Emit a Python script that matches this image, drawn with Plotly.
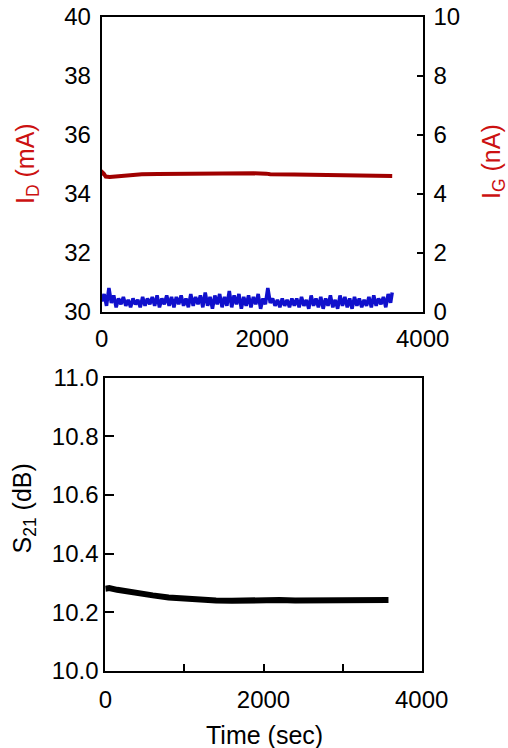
import plotly.graph_objects as go

# ---------------- data ----------------
t_id = [0, 10, 25, 50, 100, 200, 300, 400, 500, 700, 1000, 1300, 1600, 1900, 2050, 2100, 2400, 2700, 3000, 3300, 3620]
i_d = [34.62, 34.72, 34.68, 34.58, 34.57, 34.60, 34.62, 34.64, 34.66, 34.67, 34.68, 34.69, 34.69, 34.69, 34.68, 34.66, 34.65, 34.63, 34.62, 34.61, 34.60]

t_ig = list(range(0, 3601, 30)) + [3620]
i_g = [0.35, 0.60, 0.20, 0.80, 0.30, 0.55, 0.15, 0.45, 0.25, 0.50,
       0.20, 0.40, 0.15, 0.45, 0.25, 0.40, 0.15, 0.50, 0.20, 0.45,
       0.25, 0.50, 0.20, 0.55, 0.15, 0.45, 0.25, 0.55, 0.20, 0.50,
       0.15, 0.50, 0.25, 0.55, 0.20, 0.45, 0.15, 0.60, 0.20, 0.50,
       0.25, 0.55, 0.15, 0.65, 0.20, 0.50, 0.10, 0.55, 0.25, 0.60,
       0.15, 0.50, 0.20, 0.70, 0.15, 0.55, 0.25, 0.60, 0.10, 0.50,
       0.20, 0.55, 0.15, 0.50, 0.25, 0.60, 0.10, 0.45, 0.25, 0.80,
       0.30, 0.45, 0.20, 0.40, 0.15, 0.45, 0.20, 0.40, 0.15, 0.45,
       0.20, 0.45, 0.15, 0.50, 0.20, 0.40, 0.10, 0.55, 0.20, 0.45,
       0.15, 0.50, 0.10, 0.45, 0.20, 0.55, 0.15, 0.40, 0.10, 0.55,
       0.20, 0.50, 0.15, 0.45, 0.10, 0.50, 0.20, 0.45, 0.15, 0.40,
       0.20, 0.50, 0.15, 0.55, 0.20, 0.45, 0.25, 0.50, 0.15, 0.60,
       0.30, 0.65]

t_s21 = [0, 50, 150, 300, 450, 600, 800, 1000, 1200, 1400, 1600, 1800, 2000, 2200, 2400, 2600, 2800, 3000, 3200, 3400, 3580]
s21 = [10.280, 10.282, 10.276, 10.268, 10.262, 10.257, 10.250, 10.245, 10.242, 10.240, 10.239, 10.241, 10.242, 10.241, 10.240, 10.241, 10.242, 10.241, 10.241, 10.242, 10.241]

x_tickvals = [0, 2000, 4000]
x_minor_step = 1000
id_ticks = [30, 32, 34, 36, 38, 40]
ig_ticks = [0, 2, 4, 6, 8, 10]
s21_ticks = [10.0, 10.2, 10.4, 10.6, 10.8, 11.0]

# ---------------- figure ----------------
W, H = 508, 748
FONT = "Liberation Sans, Arial, sans-serif"
FS = 24
FS_TITLE = 25
RED_LBL = "#cc1111"

fig = go.Figure()
fig.add_trace(go.Scatter(x=t_id, y=i_d, mode="lines", line=dict(color="#a00000", width=4),
                         xaxis="x", yaxis="y", showlegend=False))
fig.add_trace(go.Scatter(x=t_ig, y=i_g, mode="lines", line=dict(color="#1010cc", width=3.5),
                         xaxis="x", yaxis="y2", showlegend=False))
fig.add_trace(go.Scatter(x=t_s21, y=s21, mode="lines", line=dict(color="black", width=6),
                         xaxis="x2", yaxis="y3", showlegend=False))

def px_x(p):
    return p / W

def px_y(p):
    return 1 - p / H

axis_common = dict(showline=True, linecolor="black", linewidth=2, showgrid=False, zeroline=False,
                   automargin=False, tickfont=dict(family=FONT, size=FS, color="black"))

fig.update_layout(
    template="none",
    width=W, height=H, margin=dict(l=0, r=0, t=0, b=0, pad=0),
    paper_bgcolor="white", plot_bgcolor="white",
    font=dict(family=FONT, size=FS, color="black"),
    xaxis=dict(domain=[px_x(101.7), px_x(422.7)], anchor="y", range=[0, 4000],
               tickmode="array", tickvals=x_tickvals, ticks="", mirror=True,
               ticklabelstandoff=4, **axis_common),
    yaxis=dict(domain=[px_y(311.7), px_y(16.7)], anchor="x", range=[30, 40],
               tickmode="array", tickvals=id_ticks, ticks="", ticklabelstandoff=4, **axis_common),
    yaxis2=dict(overlaying="y", side="right", anchor="x", range=[0, 10],
                tickmode="array", tickvals=ig_ticks, ticks="inside", ticklen=6, tickwidth=2,
                tickcolor="black", ticklabelstandoff=4, **axis_common),
    xaxis2=dict(domain=[px_x(105.3), px_x(421.7)], anchor="y3", range=[0, 4000],
                tickmode="linear", tick0=0, dtick=2000, ticks="inside", ticklen=7, tickwidth=2,
                tickcolor="black", mirror=True, ticklabelstandoff=6,
                minor=dict(dtick=x_minor_step, tick0=0, ticks="inside", ticklen=7, tickwidth=2,
                           tickcolor="black", showgrid=False),
                **axis_common),
    yaxis3=dict(domain=[px_y(670.7), px_y(377.7)], anchor="x2", range=[10.0, 11.0],
                tickmode="array", tickvals=s21_ticks, tickformat=".1f", ticks="inside", ticklen=9,
                tickwidth=2, tickcolor="black", mirror=True, ticklabelstandoff=0, **axis_common),
)

ann = [
    dict(text="I<sub>D</sub> (mA)", x=px_x(27), y=px_y(164), textangle=-90, color=RED_LBL),
    dict(text="I<sub>G</sub> (nA)", x=px_x(493), y=px_y(162), textangle=-90, color=RED_LBL),
    dict(text="S<sub>21</sub> (dB)", x=px_x(23.5), y=px_y(509), textangle=-90, color="black"),
    dict(text="Time (sec)", x=px_x(264), y=px_y(735), textangle=0, color="black"),
]
for a in ann:
    fig.add_annotation(text=a["text"], x=a["x"], y=a["y"], xref="paper", yref="paper",
                       xanchor="center", yanchor="middle", textangle=a["textangle"],
                       showarrow=False, font=dict(family=FONT, size=FS_TITLE, color=a["color"]))

fig.write_html("out.html")
